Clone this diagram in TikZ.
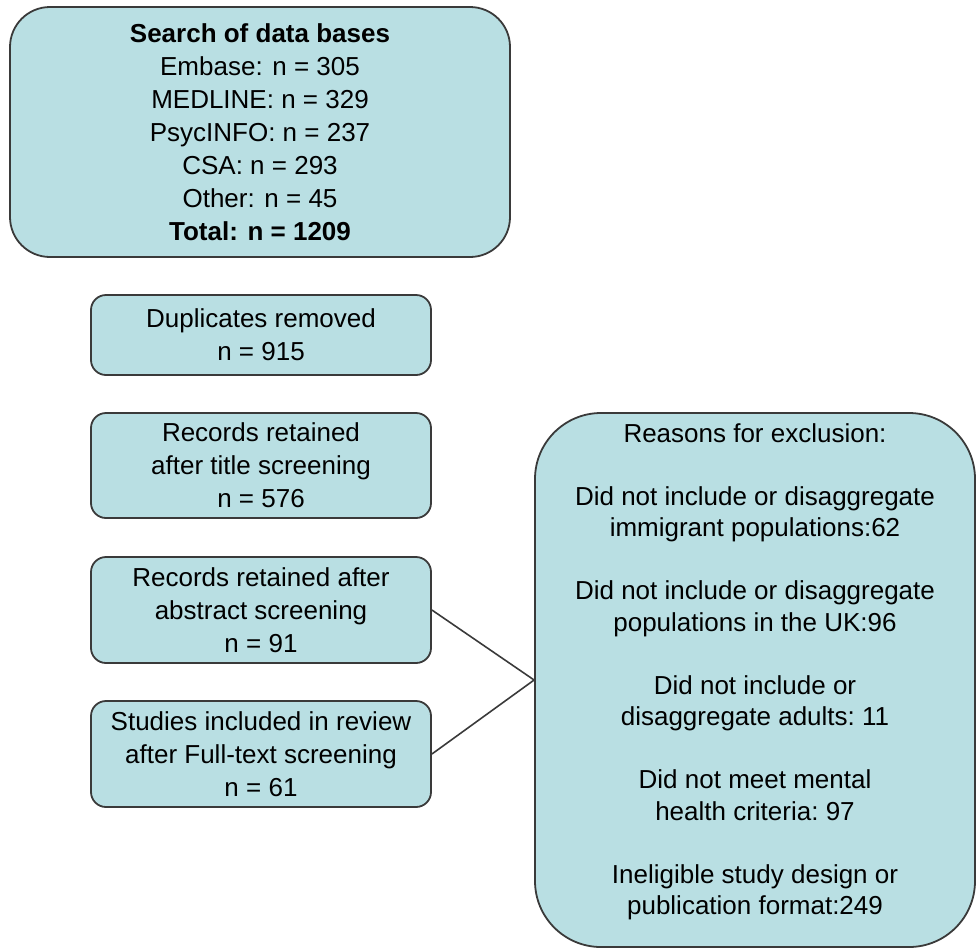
\documentclass[tikz,border=0pt]{standalone}
\usepackage{fontspec}
\setmainfont{Liberation Sans}
\usepackage{tikz}
\usetikzlibrary{positioning}

\definecolor{boxfill}{HTML}{B9DFE3}
\definecolor{boxline}{HTML}{3A3A3A}

\begin{document}
\begin{tikzpicture}[x=0.5pt,y=-0.5pt,
        every node/.style={font=\fontsize{13}{16.5}\selectfont},
        stage/.style={draw=boxline,fill=boxfill,line width=0.9pt,rounded corners=7.5pt,
            align=center,inner sep=0pt,minimum width=170pt},
        search/.style={stage,rounded corners=20pt,minimum width=250pt,minimum height=125pt},
        reasons/.style={stage,rounded corners=33pt,minimum width=220pt,minimum height=267pt},
        link/.style={draw=boxline,line width=0.8pt}]

      \useasboundingbox (0,0) rectangle (977,948);

      \node[search] (db) at (260,132) {\textbf{Search of data bases}\\
            Embase: n = 305\\ MEDLINE: n = 329\\ PsycINFO: n = 237\\
            CSA: n = 293\\ Other: n = 45\\ \textbf{Total: n = 1209}};

      \node[stage,minimum height=40pt]   (dup)   at (261,335)   {Duplicates removed\\ n = 915};
      \node[stage,minimum height=52.5pt] (title) at (261,465.5) {Records retained\\ after title screening\\ n = 576};
      \node[stage,minimum height=53pt]   (abst)  at (261,610)   {Records retained after\\ abstract screening\\ n = 91};
      \node[stage,minimum height=53pt]   (full)  at (261,754)   {Studies included in review\\ after Full-text screening\\ n = 61};

      % exclusion box, text set on its own
      \node[reasons] (excl) at (755,680) {};
      \node[align=center,inner sep=0pt,font=\fontsize{13}{15.75}\selectfont] (exclText) at (755,672)
            {Reasons for exclusion:\\[15.75pt]
             Did not include or disaggregate\\ immigrant populations:62\\[15.75pt]
             Did not include or disaggregate\\ populations in the UK:96\\[15.75pt]
             Did not include or\\ disaggregate adults:\ 11\\[15.75pt]
             Did not meet mental\\ health criteria:\ 97\\[15.75pt]
             Ineligible study design or\\ publication format:249};

      \path[link] (abst.east) -- (excl.west) -- (full.east);
\end{tikzpicture}
\end{document}
